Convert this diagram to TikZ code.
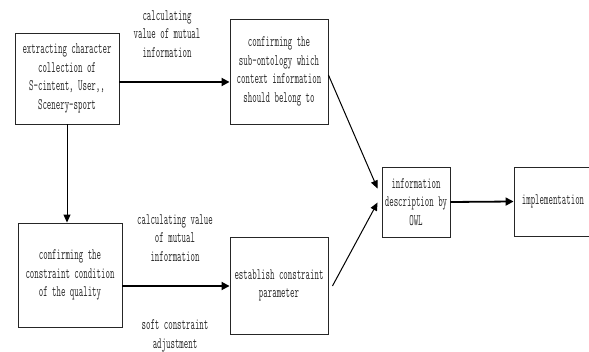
\documentclass[tikz,border=0pt]{standalone}
\usepackage{fontspec}
\setmonofont[FakeStretch=0.54]{Latin Modern Mono}
\usetikzlibrary{arrows.meta,calc}
\tikzset{
  box/.style={draw=black!85, line width=0.9pt, inner sep=0pt, align=center,
    text=black!85, font={\ttfamily\fontsize{16}{18.5}\selectfont}},
  lbl/.style={inner sep=0pt, align=center, text=black!85,
    font={\ttfamily\fontsize{16}{18.5}\selectfont}},
  thick arrow/.style={line width=1.8pt, -{Triangle[length=8pt,width=8pt]}},
  thin arrow/.style={line width=1pt, -{Triangle[length=8pt,width=7pt]}},
}
\begin{document}
\begin{tikzpicture}[x=1pt,y=-1pt]
\useasboundingbox (0,0) rectangle (589,352);
\clip (0,0) rectangle (589,352);
\node[box, minimum width=104pt, minimum height=91pt] (b1) at (67,78.5)
  {extracting character\\collection of\\S-cintent, User,,\\Scenery-sport};
\node[box, minimum width=98pt, minimum height=105pt] (b2) at (279,71.5)
  {confirming the\\sub-ontology which\\context information\\should belong to};
\node[box, minimum width=104pt, minimum height=104pt] (b3) at (70,275)
  {confirming the\\constraint condition\\of the quality};
\node[box, minimum width=98pt, minimum height=97pt] (b4) at (279,285.5)
  {establish constraint\\parameter};
\node[box, minimum width=68pt, minimum height=70pt] (b5) at (416,202)
  {information\\description by\\OWL};
\node[box, minimum width=78pt, minimum height=69pt] (b6) at (553,201.5)
  {implementation};
\node[lbl] (l1) at (167,34) {calculating\\value of mutual\\information};
\node[lbl] (l2) at (175,238) {calculating value\\of mutual\\information};
\node[lbl] (l3) at (175,336) {soft constraint\\adjustment};
\coordinate (e1) at ($(b5.north west)+(-4,22)$);
\coordinate (e2) at ($(b5.north west)+(-4,36)$);
\draw[thick arrow] ($(b1.east)+(0,3.5)$) -- ($(b2.west)+(0,10.5)$);
\draw[thin arrow] (b1.south) -- (b3.north -| b1.south);
\draw[thick arrow] ($(b3.east)+(0,11)$) -- ($(b4.west)+(0,0.5)$);
\draw[thin arrow] ($(b2.east)+(0,3.5)$) -- (e1);
\draw[thin arrow] ($(b4.east)+(4,0.5)$) -- (e2);
\draw[thick arrow] (b5.east) -- (b6.west);
\end{tikzpicture}
\end{document}
